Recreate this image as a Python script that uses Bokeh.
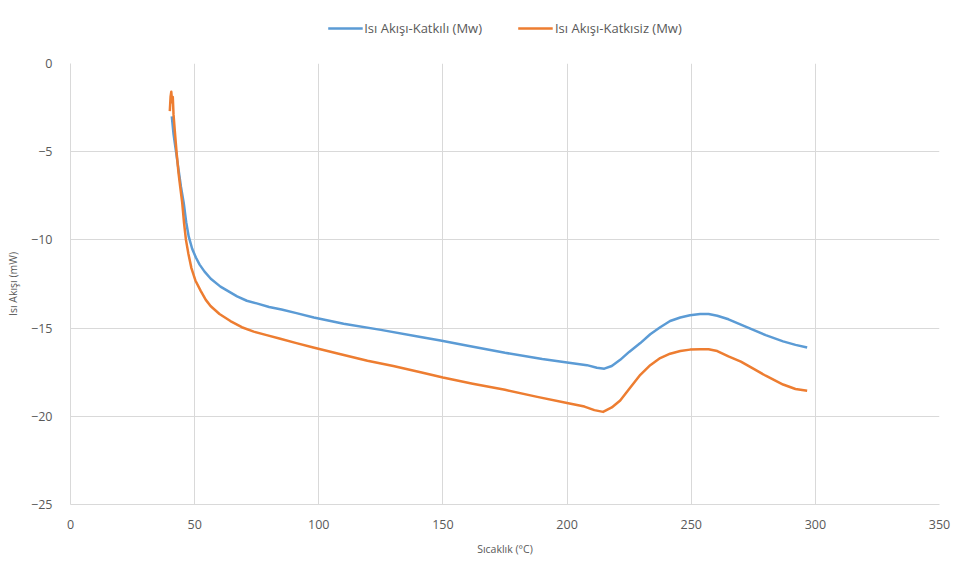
from bokeh.plotting import figure
from bokeh.layouts import column
from bokeh.models import Range1d, FixedTicker, Legend, LegendItem
from bokeh.embed import file_html
from bokeh.resources import INLINE

# --- data ---
temp_katkili = [40.8, 41.5, 42.5, 43.5, 44.5, 45.6, 46.6, 47.6, 49.0, 50.5, 52.0,
                54.0, 56.5, 60.4, 64.0, 67.1, 71.0, 75.0, 80.0, 85.0, 91.0,
                98.0, 110.0, 125.0, 141.0, 149.0, 160.0, 175.0, 190.0, 200.0,
                208.0, 212.0, 215.0, 218.0, 221.4, 225.0, 229.5, 233.5, 237.5,
                241.5, 245.6, 249.5, 253.6, 257.0, 260.5, 265.0, 270.0, 275.0,
                280.0, 287.0, 292.0, 296.7]
flow_katkili = [-3.0, -4.0, -5.0, -6.0, -7.0, -7.9, -9.0, -9.8, -10.5, -11.0, -11.4,
                -11.8, -12.2, -12.65, -12.95, -13.2, -13.45, -13.6, -13.8, -13.95, -14.15,
                -14.4, -14.75, -15.1, -15.5, -15.7, -16.0, -16.4, -16.75, -16.95,
                -17.1, -17.25, -17.3, -17.15, -16.8, -16.35, -15.85, -15.35, -14.95,
                -14.6, -14.4, -14.27, -14.2, -14.2, -14.3, -14.5, -14.8, -15.1,
                -15.4, -15.75, -15.95, -16.1]

temp_katkisiz = [40.0, 40.3, 40.6, 40.9, 41.2, 41.5, 42.0, 42.7, 43.5, 44.2, 45.0,
                 45.7, 46.5, 47.5, 48.7, 50.3, 52.5, 54.5, 56.4, 60.0, 64.4,
                 69.0, 73.8, 79.0, 84.5, 91.0, 97.8, 108.0, 119.6, 130.0, 141.0,
                 150.0, 162.0, 175.0, 188.0, 200.0, 207.0, 211.0, 214.5, 218.0,
                 221.4, 225.0, 229.5, 233.5, 237.5, 241.5, 245.6, 249.5, 253.6,
                 257.0, 260.5, 265.0, 270.0, 275.0, 280.0, 287.0, 292.0, 296.7]
flow_katkisiz = [-2.7, -1.9, -1.6, -2.2, -1.9, -2.9, -3.8, -5.0, -6.2, -7.0, -7.9,
                 -9.0, -10.0, -10.8, -11.6, -12.3, -12.9, -13.4, -13.75, -14.2, -14.6,
                 -14.95, -15.2, -15.4, -15.6, -15.85, -16.1, -16.45, -16.85, -17.15, -17.5,
                 -17.8, -18.15, -18.5, -18.9, -19.25, -19.45, -19.65, -19.75, -19.5,
                 -19.1, -18.45, -17.65, -17.1, -16.7, -16.45, -16.3, -16.22, -16.2,
                 -16.2, -16.3, -16.6, -16.9, -17.3, -17.7, -18.2, -18.45, -18.55]

x_ticks = [0, 50, 100, 150, 200, 250, 300, 350]
y_ticks = [-25, -20, -15, -10, -5, 0]

series_names = ["Isı Akışı-Katkılı (Mw)", "Isı Akışı-Katkısiz (Mw)"]
series_colors = ["#5b9bd5", "#ed7d31"]
x_title = "Sıcaklık (°C)"
y_title = "Isı Akışı (mW)"

FONT = "Open Sans"
GRAY = "#595959"
GRID = "#d9d9d9"

# ---------- legend strip on top (its lines lie outside its own view) ----------
leg = figure(width=956, height=55, output_backend="svg", toolbar_location=None,
             x_range=Range1d(0, 1), y_range=Range1d(0, 1),
             min_border=0, outline_line_color=None)
leg.axis.visible = False
leg.grid.visible = False
items = []
for name, col, xs, ys in zip(series_names, series_colors,
                             (temp_katkili, temp_katkisiz),
                             (flow_katkili, flow_katkisiz)):
    r = leg.line(xs, ys, line_color=col, line_width=2.5)
    items.append(LegendItem(label=name, renderers=[r]))
legend = Legend(items=items, orientation="horizontal", location="center",
                label_text_font=FONT, label_text_font_size="13px",
                label_text_color=GRAY, glyph_width=35, glyph_height=20,
                spacing=36, padding=0, margin=0, label_standoff=2,
                border_line_color=None, background_fill_alpha=0)
leg.add_layout(legend, "center")

# ---------- main chart ----------
p = figure(width=956, height=508, output_backend="svg", toolbar_location=None,
           x_range=Range1d(0, 350), y_range=Range1d(-25, 0),
           min_border_left=70, min_border_right=17, min_border_top=8,
           min_border_bottom=59)

p.outline_line_color = None
p.background_fill_color = "white"

p.line(temp_katkili, flow_katkili, line_color=series_colors[0], line_width=2.5,
       line_join="round")
p.line(temp_katkisiz, flow_katkisiz, line_color=series_colors[1], line_width=2.5,
       line_join="round")

for ax in (p.xaxis[0], p.yaxis[0]):
    ax.axis_line_color = GRID
    ax.major_tick_line_color = None
    ax.minor_tick_line_color = None
    ax.major_label_text_color = GRAY
    ax.major_label_text_font = FONT
    ax.major_label_text_font_size = "12.5px"
    ax.axis_label_text_color = GRAY
    ax.axis_label_text_font = FONT
    ax.axis_label_text_font_size = "10.5px"
    ax.axis_label_text_font_style = "normal"

p.xaxis.ticker = FixedTicker(ticks=x_ticks)
p.yaxis.ticker = FixedTicker(ticks=y_ticks)
p.xaxis.axis_label = x_title
p.yaxis.axis_label = y_title
p.xaxis.major_label_standoff = 9
p.yaxis.major_label_standoff = 12
p.xaxis.axis_label_standoff = 10
p.yaxis.axis_label_standoff = 8

p.xgrid.grid_line_color = GRID
p.ygrid.grid_line_color = GRID
p.xgrid.ticker = FixedTicker(ticks=x_ticks)
p.ygrid.ticker = FixedTicker(ticks=y_ticks)

page = column(leg, p, spacing=0)
open("out.html", "w").write(file_html(page, INLINE))
